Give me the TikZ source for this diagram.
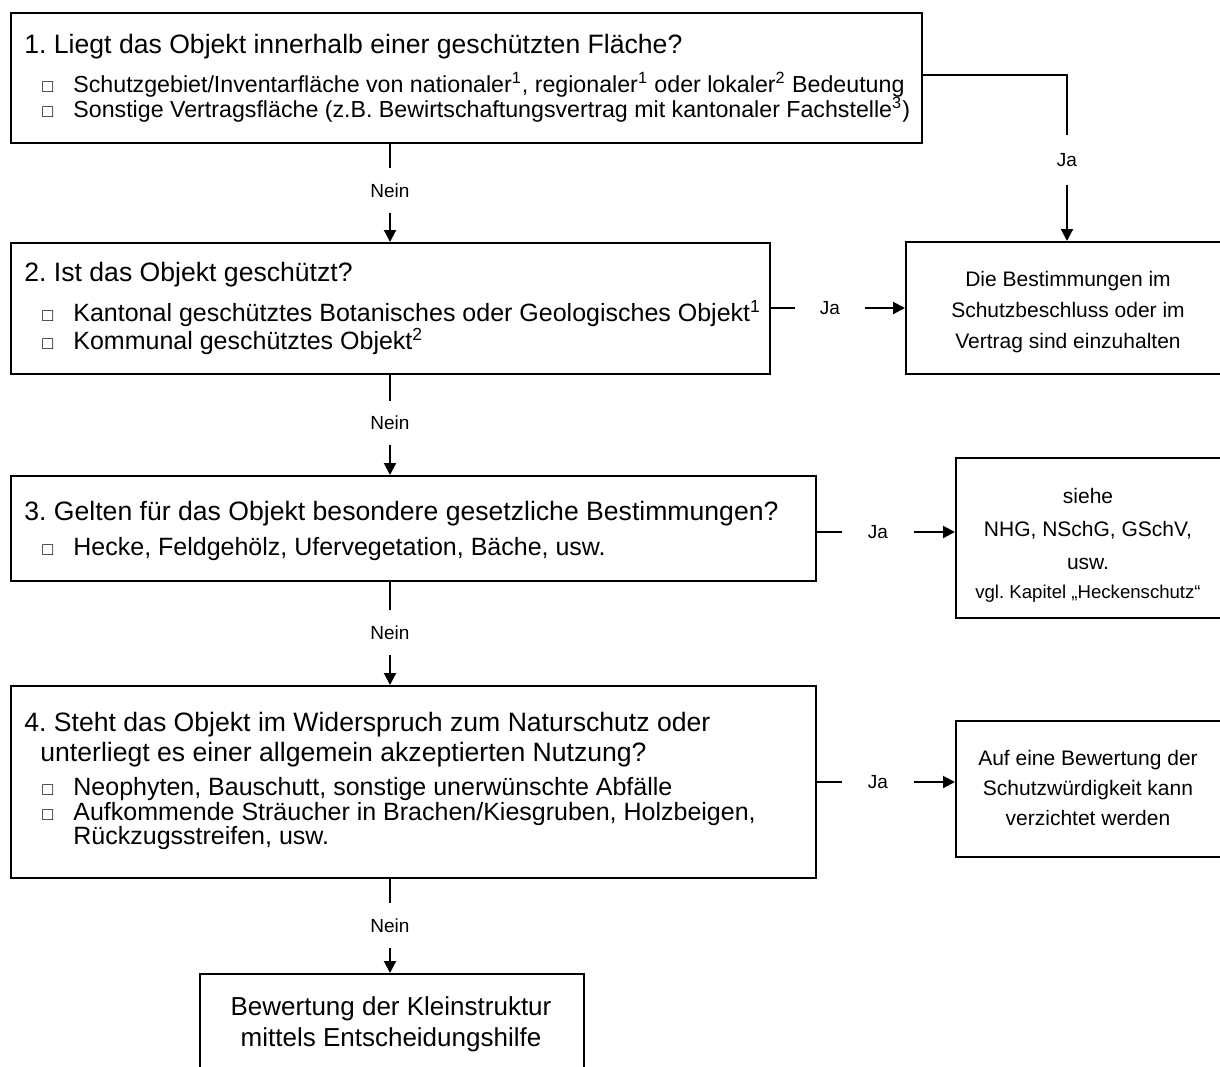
\documentclass[tikz,border=0pt]{standalone}
\usepackage{fontspec}
\setmainfont{Liberation Sans}
\usetikzlibrary{arrows.meta,positioning}

\newcommand{\qsize}{\fontsize{13.3}{15}\selectfont}
\newcommand{\isize}{\fontsize{12.5}{14}\selectfont}
\newcommand{\bul}{\makebox[15.5pt][l]{\fontsize{9}{10}\selectfont □}}

\begin{document}
\frenchspacing
\begin{tikzpicture}[
    x=0.5pt,y=-0.5pt,
    box/.style={draw,line width=1pt,inner sep=0pt,anchor=north west},
    qtext/.style={anchor=base west,inner sep=0pt,font=\qsize},
    itext/.style={anchor=base west,inner sep=0pt,font=\isize},
    rtext/.style={align=center,inner sep=0pt},
    lbl/.style={inner sep=0pt,font=\fontsize{9.5}{11}\selectfont},
    line/.style={line width=1pt},
    flow/.style={line width=1pt,-{Triangle[length=6pt,width=6pt]}}
  ]
    \useasboundingbox (0,0) rectangle (1220,1066);
    \clip (0,0) rectangle (1220,1066);

    % question boxes
    \node[box,minimum width=455.5pt,minimum height=65pt] (b1) at (10,12) {};
    \node[box,minimum width=379.5pt,minimum height=65.5pt] (b2) at (10,242) {};
    \node[box,minimum width=402.5pt,minimum height=52.5pt] (b3) at (10,475) {};
    \node[box,minimum width=402.5pt,minimum height=96pt] (b4) at (10,685) {};
    \node[box,minimum width=192pt,minimum height=60pt] (b5) at (199,973) {};

    % result boxes
    \node[box,minimum width=170pt,minimum height=66pt] (ra) at (905,241) {};
    \node[box,minimum width=150pt,minimum height=80pt] (rb) at (955,457) {};
    \node[box,minimum width=150pt,minimum height=68pt] (rc) at (955,720) {};

    % texts
    \node[qtext] (q1) at (24,53) {1. Liegt das Objekt innerhalb einer geschützten Fläche?};
    \node[itext,font=\fontsize{11.6}{13}\selectfont] (q1a) at (42,92) {\bul Schutzgebiet/Inventarfläche von nationaler\textsuperscript{1}, regionaler\textsuperscript{1} oder lokaler\textsuperscript{2} Bedeutung};
    \node[itext,font=\fontsize{11.6}{13}\selectfont] (q1b) at (42,117) {\bul Sonstige Vertragsfläche (z.B. Bewirtschaftungsvertrag mit kantonaler Fachstelle\textsuperscript{3})};

    \node[qtext] (q2) at (24,281) {2. Ist das Objekt geschützt?};
    \node[itext] (q2a) at (42,321.5) {\bul Kantonal geschütztes Botanisches oder Geologisches Objekt\textsuperscript{1}};
    \node[itext] (q2b) at (42,349.5) {\bul Kommunal geschütztes Objekt\textsuperscript{2}};

    \node[qtext] (q3) at (24,520) {3. Gelten für das Objekt besondere gesetzliche Bestimmungen?};
    \node[itext] (q3a) at (42,555.5) {\bul Hecke, Feldgehölz, Ufervegetation, Bäche, usw.};

    \node[qtext] (q4) at (24,731) {4. Steht das Objekt im Widerspruch zum Naturschutz oder};
    \node[qtext] (q4b) at (40,761) {unterliegt es einer allgemein akzeptierten Nutzung?};
    \node[itext] (q4c) at (42,795.5) {\bul Neophyten, Bauschutt, sonstige unerwünschte Abfälle};
    \node[itext] (q4d) at (42,820) {\bul Aufkommende Sträucher in Brachen/Kiesgruben, Holzbeigen,};
    \node[itext] (q4e) at (73,844.5) {Rückzugsstreifen, usw.};

    \node[rtext,font=\fontsize{13}{15.5}\selectfont] (t5) at (391,1024) {Bewertung der Kleinstruktur\\mittels Entscheidungshilfe};

    \node[rtext,font=\fontsize{10.5}{15.5}\selectfont] (ta) at (1068,312) {Die Bestimmungen im\\Schutzbeschluss oder im\\Vertrag sind einzuhalten};
    \node[rtext,font=\fontsize{10.5}{16.5}\selectfont] (tb) at (1088,529) {siehe\\NHG, NSchG, GSchV,\\usw.};
    \node[inner sep=0pt,font=\fontsize{9.3}{10}\selectfont] (tb2) at (1088,594) {vgl. Kapitel „Heckenschutz“};
    \node[rtext,font=\fontsize{10.5}{15}\selectfont] (tc) at (1088,788) {Auf eine Bewertung der\\Schutzwürdigkeit kann\\verzichtet werden};

    % labels on the connectors
    \node[lbl,minimum height=22.5pt] (n1) at (390,190.5) {Nein};
    \node[lbl,minimum height=22pt] (n2) at (390,423) {Nein};
    \node[lbl,minimum height=22.5pt] (n3) at (390,632.5) {Nein};
    \node[lbl,minimum height=22.5pt] (n4) at (390,925.5) {Nein};
    \node[lbl,minimum height=25pt] (j1) at (1067,160) {Ja};
    \node[lbl,minimum width=35pt] (j2) at (830,308) {Ja};
    \node[lbl,minimum width=36pt] (j3) at (878,532) {Ja};
    \node[lbl,minimum width=36pt] (j4) at (878,782) {Ja};

    % Nein branch
    \draw[line] (b1.south -| n1) -- (n1.north);
    \draw[flow] (n1.south) -- (n1.south |- b2.north);
    \draw[line] (b2.south -| n2) -- (n2.north);
    \draw[flow] (n2.south) -- (n2.south |- b3.north);
    \draw[line] (b3.south -| n3) -- (n3.north);
    \draw[flow] (n3.south) -- (n3.south |- b4.north);
    \draw[line] (b4.south -| n4) -- (n4.north);
    \draw[flow] (n4.south) -- (n4.south |- b5.north);

    % Ja branch
    \draw[line] (b1.east |- 0,75) -| (j1.north);
    \draw[flow] (j1.south) -- (j1.south |- ra.north);
    \draw[line] (b2.east |- j2) -- (j2.west);
    \draw[flow] (j2.east) -- (j2.east -| ra.west);
    \draw[line] (b3.east |- j3) -- (j3.west);
    \draw[flow] (j3.east) -- (j3.east -| rb.west);
    \draw[line] (b4.east |- j4) -- (j4.west);
    \draw[flow] (j4.east) -- (j4.east -| rc.west);
  \end{tikzpicture}
\end{document}
